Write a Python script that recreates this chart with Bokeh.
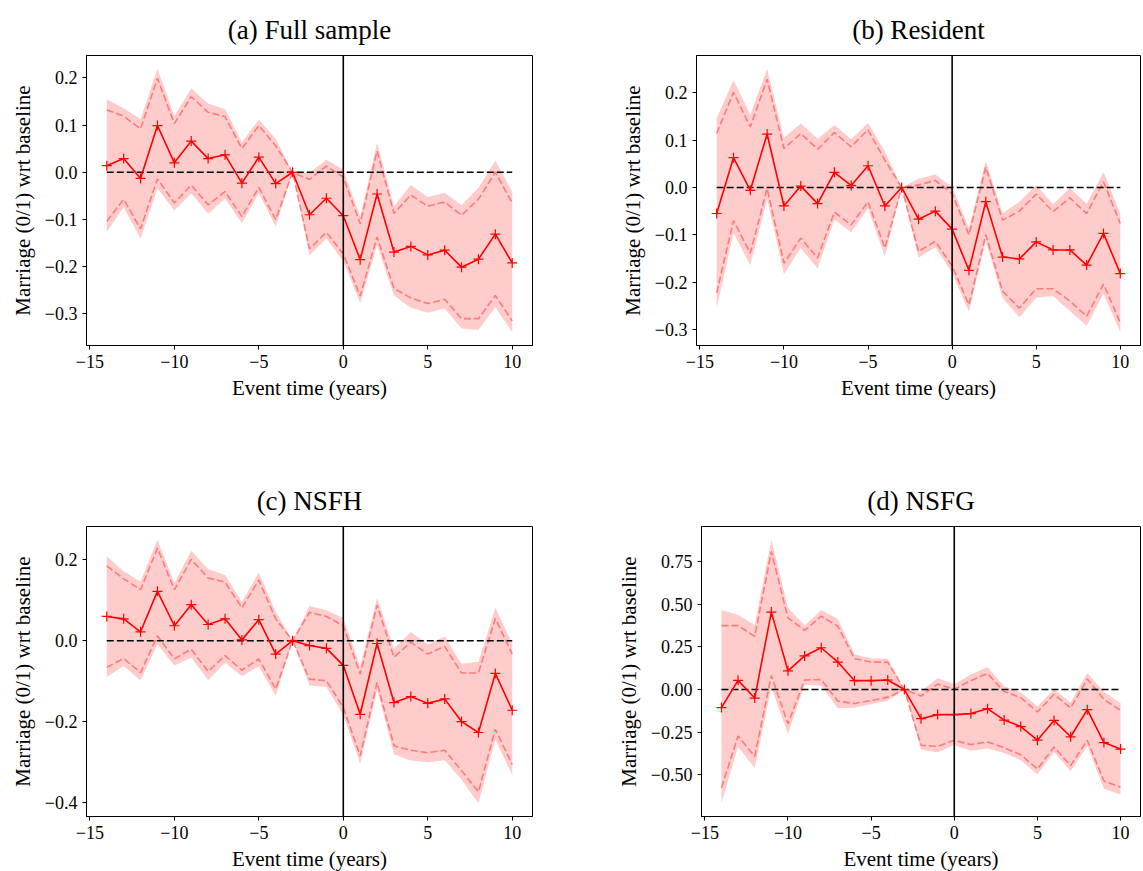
import numpy as np
from bokeh.plotting import figure
from bokeh.layouts import column, row
from bokeh.models import Span, FixedTicker, CustomJSTickFormatter, Range1d
from bokeh.embed import file_html
from bokeh.resources import INLINE

# ---------------- data ----------------
event_time = list(range(-14, 11))

titles = ["(a) Full sample", "(b) Resident", "(c) NSFH", "(d) NSFG"]

# (a) Full sample
a_est = [0.014, 0.029, -0.013, 0.099, 0.020, 0.066, 0.029, 0.037, -0.023, 0.032, -0.024, 0.0,
         -0.090, -0.055, -0.092, -0.185, -0.046, -0.169, -0.157, -0.175, -0.165, -0.201, -0.184, -0.131, -0.192]
a_hi90 = [0.132, 0.119, 0.092, 0.199, 0.103, 0.160, 0.127, 0.118, 0.050, 0.099, 0.056, 0.0,
          -0.015, 0.013, -0.010, -0.109, 0.045, -0.087, -0.048, -0.072, -0.063, -0.091, -0.057, 0.0, -0.065]
a_lo90 = [-0.104, -0.057, -0.120, -0.014, -0.065, -0.027, -0.069, -0.041, -0.094, -0.032, -0.100, 0.0,
          -0.162, -0.127, -0.173, -0.262, -0.137, -0.246, -0.266, -0.278, -0.269, -0.310, -0.310, -0.261, -0.315]

# (b) Resident
b_est = [-0.055, 0.063, -0.006, 0.113, -0.039, 0.003, -0.034, 0.032, 0.004, 0.046, -0.039, 0.0,
         -0.067, -0.050, -0.088, -0.175, -0.030, -0.147, -0.151, -0.115, -0.132, -0.132, -0.164, -0.097, -0.182]
b_hi90 = [0.114, 0.201, 0.128, 0.229, 0.082, 0.114, 0.081, 0.116, 0.086, 0.122, 0.058, 0.0,
          0.005, 0.015, -0.013, -0.100, 0.043, -0.069, -0.050, -0.014, -0.051, -0.022, -0.055, 0.012, -0.076]
b_lo90 = [-0.223, -0.070, -0.139, -0.002, -0.160, -0.107, -0.149, -0.052, -0.079, -0.030, -0.128, 0.0,
          -0.135, -0.114, -0.166, -0.248, -0.100, -0.219, -0.255, -0.214, -0.214, -0.240, -0.272, -0.204, -0.286]

# (c) NSFH
c_est = [0.060, 0.054, 0.022, 0.122, 0.037, 0.089, 0.040, 0.054, 0.002, 0.052, -0.033, 0.0,
         -0.012, -0.019, -0.061, -0.182, -0.007, -0.153, -0.138, -0.155, -0.144, -0.200, -0.227, -0.081, -0.172]
c_hi90 = [0.185, 0.153, 0.126, 0.229, 0.126, 0.201, 0.155, 0.145, 0.081, 0.150, 0.054, 0.0,
          0.070, 0.060, 0.037, -0.083, 0.088, -0.041, -0.004, -0.033, -0.014, -0.080, -0.080, 0.055, -0.033]
c_lo90 = [-0.066, -0.044, -0.079, 0.012, -0.045, -0.021, -0.076, -0.037, -0.073, -0.045, -0.120, 0.0,
          -0.095, -0.099, -0.165, -0.285, -0.103, -0.260, -0.271, -0.277, -0.271, -0.321, -0.374, -0.219, -0.306]

# (d) NSFG
d_est = [-0.106, 0.054, -0.050, 0.454, 0.110, 0.197, 0.245, 0.161, 0.052, 0.052, 0.056, 0.0,
         -0.171, -0.147, -0.147, -0.141, -0.112, -0.179, -0.217, -0.297, -0.181, -0.277, -0.118, -0.311, -0.349]
d_hi90 = [0.375, 0.375, 0.311, 0.809, 0.420, 0.347, 0.430, 0.371, 0.181, 0.161, 0.161, 0.0,
          -0.038, 0.032, 0.002, 0.052, 0.094, -0.012, -0.048, -0.131, -0.028, -0.108, 0.062, -0.058, -0.122]
d_lo90 = [-0.576, -0.273, -0.392, 0.082, -0.201, 0.056, 0.058, -0.068, -0.082, -0.064, -0.046, 0.0,
          -0.327, -0.333, -0.297, -0.323, -0.307, -0.341, -0.382, -0.466, -0.337, -0.446, -0.297, -0.536, -0.572]

x_ticks = [-15, -10, -5, 0, 5, 10]
a_yticks = [-0.3, -0.2, -0.1, 0.0, 0.1, 0.2]
b_yticks = [-0.3, -0.2, -0.1, 0.0, 0.1, 0.2]
c_yticks = [-0.4, -0.2, 0.0, 0.2]
d_yticks = [-0.75, -0.5, -0.25, 0.0, 0.25, 0.5, 0.75]

Y_LABEL = "Marriage (0/1) wrt baseline"
X_LABEL = "Event time (years)"

# 95% band from the 90% interval (z-ratio)
Z_RATIO = 1.96 / 1.645

SERIF = "Liberation Serif"


def make_panel(title, est, lo90, hi90, yticks, decimals,
               bl, fw, br, bt, fh, bb):
    x = np.array(event_time, dtype=float)
    est = np.array(est)
    lo90 = np.array(lo90)
    hi90 = np.array(hi90)
    mid = (lo90 + hi90) / 2.0
    hw = (hi90 - lo90) / 2.0 * Z_RATIO
    lo95 = mid - hw
    hi95 = mid + hw

    ymin, ymax = lo95.min(), hi95.max()
    ypad = 0.05 * (ymax - ymin)
    xpad = 0.05 * (x.max() - x.min())

    p = figure(frame_width=fw, frame_height=fh,
               min_border_left=bl, min_border_right=br,
               min_border_top=bt, min_border_bottom=bb,
               x_range=Range1d(x.min() - xpad, x.max() + xpad),
               y_range=Range1d(ymin - ypad, ymax + ypad),
               output_backend="svg", toolbar_location=None,
               background_fill_color="white", border_fill_color="white")

    p.title.text = title
    p.title.text_font = SERIF
    p.title.text_font_size = "27px"
    p.title.text_font_style = "normal"
    p.title.text_color = "black"
    p.title.align = "center"
    p.title.standoff = 21

    p.grid.visible = False
    p.outline_line_color = "black"
    p.outline_line_width = 1
    p.outline_line_alpha = 1

    for ax in (p.xaxis[0], p.yaxis[0]):
        ax.axis_line_color = "black"
        ax.major_tick_line_color = "black"
        ax.major_tick_out = 4
        ax.major_tick_in = 0
        ax.minor_tick_line_color = None
        ax.major_label_text_font = SERIF
        ax.major_label_text_font_size = "18px"
        ax.major_label_text_color = "black"
        ax.axis_label_text_font = SERIF
        ax.axis_label_text_font_size = "21px"
        ax.axis_label_text_font_style = "normal"
        ax.axis_label_text_color = "black"

    p.xaxis.major_label_standoff = 5
    p.yaxis.major_label_standoff = 5
    p.xaxis.ticker = FixedTicker(ticks=x_ticks)
    p.yaxis.ticker = FixedTicker(ticks=yticks)
    p.xaxis.formatter = CustomJSTickFormatter(
        code="return (tick < 0 ? '\u2212' : '') + Math.abs(tick).toFixed(0);")
    p.yaxis.formatter = CustomJSTickFormatter(
        args=dict(d=decimals),
        code="return (tick < -1e-9 ? '\u2212' : '') + Math.abs(tick).toFixed(d);")
    p.xaxis.axis_label = X_LABEL
    p.yaxis.axis_label = Y_LABEL
    p.xaxis.axis_label_standoff = 5
    p.yaxis.axis_label_standoff = 7

    # 95% band
    p.varea(x=x, y1=lo95, y2=hi95, fill_color="#ff0000", fill_alpha=0.2)
    # 90% dashed bounds
    for yy in (lo90, hi90):
        p.line(x, yy, line_color="#ff0000", line_alpha=0.4, line_width=1.6,
               line_dash="7 3")
    # zero reference
    p.line(x, np.zeros_like(x), line_color="black", line_width=1.6, line_dash="7 3")
    p.add_layout(Span(location=0, dimension="height", line_color="black", line_width=1.6))
    # estimates
    p.line(x, est, line_color="#ff0000", line_width=1.6)
    p.scatter(x, est, marker="cross", size=10, line_color="#ff0000", line_width=1.2)
    return p


pa = make_panel(titles[0], a_est, a_lo90, a_hi90, a_yticks, 1,
                bl=86, fw=446, br=28, bt=55, fh=290, bb=125)
pb = make_panel(titles[1], b_est, b_lo90, b_hi90, b_yticks, 1,
                bl=136, fw=444, br=2, bt=55, fh=290, bb=125)
pc = make_panel(titles[2], c_est, c_lo90, c_hi90, c_yticks, 1,
                bl=86, fw=446, br=28, bt=56, fh=290, bb=54)
pd_ = make_panel(titles[3], d_est, d_lo90, d_hi90, d_yticks, 2,
                 bl=141, fw=439, br=2, bt=56, fh=290, bb=54)

layout = column(row(pa, pb), row(pc, pd_))

open("out.html", "w", encoding="utf-8").write(file_html(layout, INLINE))
